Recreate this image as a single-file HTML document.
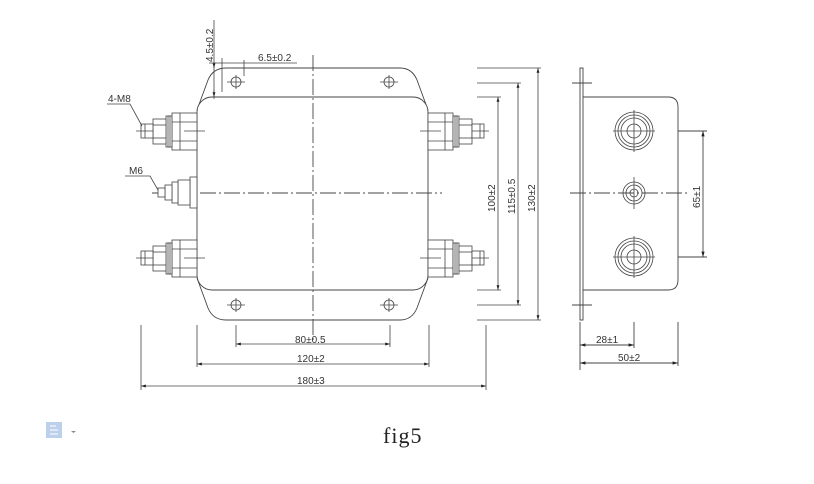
<!DOCTYPE html>
<html><head><meta charset="utf-8"><style>
html,body{margin:0;padding:0;background:#fff;}
svg{display:block;}
text{font-family:"Liberation Sans",sans-serif;font-size:10px;fill:#333;}
</style></head><body>
<svg width="814" height="484" viewBox="0 0 814 484" xmlns="http://www.w3.org/2000/svg">
<defs>
<marker id="a" viewBox="0 0 10 6" refX="10" refY="3" markerWidth="6" markerHeight="4" orient="auto-start-reverse"><path d="M0,0L10,3L0,6z" fill="#222"/></marker>
<g id="term" stroke="#444" stroke-width="0.8" fill="#fff">
  <rect x="172" y="-17" width="25" height="37"/>
  <line x1="180" y1="-17" x2="180" y2="20"/>
  <line x1="172" y1="-8" x2="197" y2="-8"/><line x1="172" y1="11" x2="197" y2="11"/>
  <rect x="166" y="-14" width="6" height="31"/>
  <rect x="168" y="-14" width="2" height="31"/>
  <rect x="153" y="-11" width="13" height="25"/>
  <line x1="153" y1="-5" x2="166" y2="-5"/><line x1="153" y1="8" x2="166" y2="8"/>
  <rect x="141" y="-6" width="12" height="14"/>
  <line x1="145" y1="-6" x2="145" y2="8"/>
  <line x1="136" y1="1" x2="153" y2="1"/>
  <line x1="184" y1="1" x2="205" y2="1"/>
</g>
</defs>
<g stroke="#444" stroke-width="0.9" fill="none">
<!-- flange -->
<path d="M197,110 L208,80 Q213,68 226,68 L400,68 Q412,68 417,80 L428,110"/>
<path d="M197,278 L208,308 Q213,320 226,320 L400,320 Q412,320 417,308 L428,278"/>
<!-- body -->
<rect x="197" y="97" width="231" height="193" rx="15" fill="#fff"/>
<!-- holes -->
<g stroke-width="0.8">
<circle cx="236" cy="82" r="5"/><line x1="227" y1="82" x2="245" y2="82"/><line x1="236" y1="75" x2="236" y2="89"/>
<circle cx="389" cy="82" r="5"/><line x1="380" y1="82" x2="398" y2="82"/><line x1="389" y1="75" x2="389" y2="89"/>
<circle cx="236" cy="305" r="5"/><line x1="227" y1="305" x2="245" y2="305"/><line x1="236" y1="298" x2="236" y2="312"/>
<circle cx="389" cy="305" r="5"/><line x1="380" y1="305" x2="398" y2="305"/><line x1="389" y1="298" x2="389" y2="312"/>
</g>
<!-- center lines -->
<line x1="313" y1="55" x2="313" y2="340" stroke-dasharray="16,3,2,3"/>
<line x1="152" y1="193" x2="442" y2="193" stroke-dasharray="16,3,2,3"/>
</g>
<use href="#term" transform="translate(0,130)"/>
<use href="#term" transform="translate(0,257)"/>
<use href="#term" transform="translate(625,130) scale(-1,1)"/>
<use href="#term" transform="translate(625,257) scale(-1,1)"/>
<!-- M6 terminal -->
<g stroke="#444" stroke-width="0.8" fill="#fff">
<rect x="190" y="177" width="7" height="31"/>
<rect x="178" y="180" width="12" height="25"/>
<rect x="172" y="182" width="6" height="21"/>
<rect x="165" y="185" width="7" height="15"/>
<rect x="158" y="188" width="7" height="9"/>
</g>
<!-- leaders -->
<g stroke="#444" stroke-width="0.8" fill="none">
<polyline points="107,104 130,104 142,126"/>
<polyline points="125,176 150,176 158,190"/>
</g>
<text x="108" y="102">4-M8</text>
<text x="129" y="174">M6</text>
<!-- top dims -->
<g stroke="#444" stroke-width="0.8" fill="none">
<line x1="214" y1="20" x2="214" y2="99"/>
<line x1="214" y1="62" x2="214" y2="68" marker-end="url(#a)"/>
<line x1="214" y1="90" x2="214" y2="97" marker-end="url(#a)"/>
<line x1="209" y1="63" x2="244" y2="63" />
<line x1="222" y1="58" x2="222" y2="92"/><line x1="244" y1="60" x2="244" y2="76"/>
<line x1="244" y1="63" x2="297" y2="63"/>
</g>
<text x="258" y="61">6.5±0.2</text>
<text transform="translate(213,62) rotate(-90)">4.5±0.2</text>
<!-- right dims -->
<g stroke="#444" stroke-width="0.8" fill="none">
<line x1="477" y1="68" x2="541" y2="68"/><line x1="477" y1="83" x2="521" y2="83"/><line x1="477" y1="97" x2="501" y2="97"/>
<line x1="477" y1="290" x2="501" y2="290"/><line x1="477" y1="305" x2="521" y2="305"/><line x1="477" y1="320" x2="541" y2="320"/>
<line x1="498" y1="97" x2="498" y2="290" marker-start="url(#a)" marker-end="url(#a)"/>
<line x1="518" y1="83" x2="518" y2="305" marker-start="url(#a)" marker-end="url(#a)"/>
<line x1="538" y1="68" x2="538" y2="320" marker-start="url(#a)" marker-end="url(#a)"/>
<line x1="486" y1="325" x2="486" y2="390"/>
</g>
<text transform="translate(495,212) rotate(-90)">100±2</text>
<text transform="translate(515,214) rotate(-90)">115±0.5</text>
<text transform="translate(535,212) rotate(-90)">130±2</text>
<!-- bottom dims -->
<g stroke="#444" stroke-width="0.8" fill="none">
<line x1="141" y1="325" x2="141" y2="390"/>
<line x1="197" y1="325" x2="197" y2="367"/><line x1="429" y1="325" x2="429" y2="367"/>
<line x1="236" y1="325" x2="236" y2="347"/><line x1="390" y1="325" x2="390" y2="347"/>
<line x1="236" y1="344" x2="390" y2="344" marker-start="url(#a)" marker-end="url(#a)"/>
<line x1="197" y1="364" x2="429" y2="364" marker-start="url(#a)" marker-end="url(#a)"/>
<line x1="141" y1="386" x2="486" y2="386" marker-start="url(#a)" marker-end="url(#a)"/>
</g>
<text x="295" y="343">80±0.5</text>
<text x="297" y="362">120±2</text>
<text x="297" y="384">180±3</text>
<!-- side view -->
<g stroke="#444" stroke-width="0.9" fill="none">
<rect x="580" y="68" width="3" height="252" fill="#fff"/>
<line x1="572" y1="83" x2="592" y2="83"/><line x1="572" y1="305" x2="592" y2="305"/>
<path d="M583,97 L668,97 Q678,97 678,107 L678,280 Q678,290 668,290 L583,290"/>
<line x1="570" y1="193" x2="690" y2="193" stroke-dasharray="16,3,2,3"/>
<g stroke-width="0.8">
<circle cx="634" cy="131" r="19"/><circle cx="634" cy="131" r="16"/><circle cx="634" cy="131" r="13"/><circle cx="634" cy="131" r="7"/>
<line x1="613" y1="131" x2="655" y2="131"/><line x1="634" y1="110" x2="634" y2="152"/>
<circle cx="634" cy="257" r="19"/><circle cx="634" cy="257" r="16"/><circle cx="634" cy="257" r="13"/><circle cx="634" cy="257" r="7"/>
<line x1="613" y1="257" x2="655" y2="257"/><line x1="634" y1="236" x2="634" y2="278"/>
<circle cx="634" cy="193" r="11"/><circle cx="634" cy="193" r="8"/><circle cx="634" cy="193" r="4"/>
<line x1="634" y1="177" x2="634" y2="209"/>
</g>
<line x1="678" y1="131" x2="707" y2="131"/><line x1="678" y1="257" x2="707" y2="257"/>
<line x1="703" y1="131" x2="703" y2="257" marker-start="url(#a)" marker-end="url(#a)"/>
<line x1="580" y1="322" x2="580" y2="370"/><line x1="634" y1="322" x2="634" y2="348"/><line x1="678" y1="322" x2="678" y2="366"/>
<line x1="580" y1="345" x2="634" y2="345" marker-start="url(#a)" marker-end="url(#a)"/>
<line x1="580" y1="363" x2="678" y2="363" marker-start="url(#a)" marker-end="url(#a)"/>
</g>
<text transform="translate(700,208) rotate(-90)">65±1</text>
<text x="596" y="343">28±1</text>
<text x="618" y="361">50±2</text>
<!-- footer -->
<text x="383" y="443" style="font-family:'Liberation Serif',serif;font-size:22px;fill:#222;letter-spacing:1px">fig5</text>
<rect x="46" y="422" width="16" height="16" fill="#bcd0ec"/>
<path d="M50,426h6M50,430h8M50,434h8" stroke="#fff" stroke-width="1"/>
<path d="M71,431h5l-2.5,2z" fill="#888"/>
</svg>
</body></html>
